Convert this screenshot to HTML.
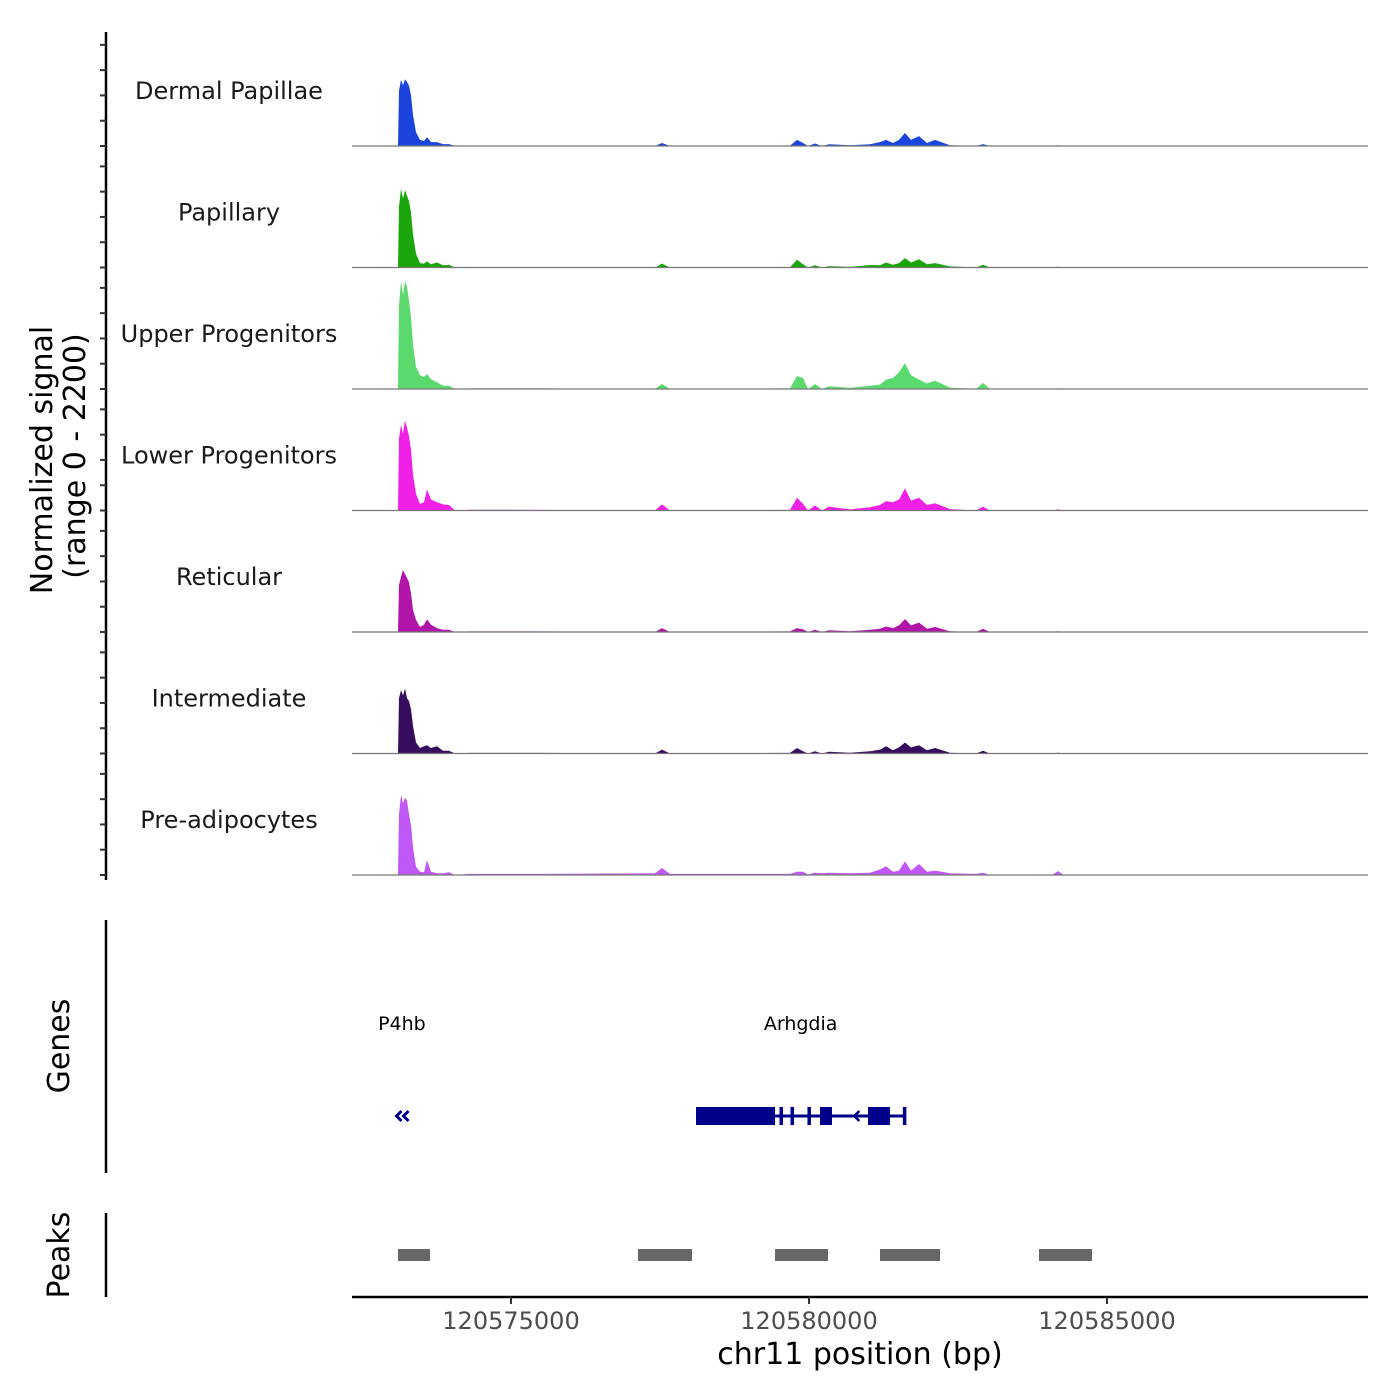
<!DOCTYPE html>
<html><head><meta charset="utf-8"><style>
html,body{margin:0;padding:0;background:#fff}
svg{display:block;font-family:"DejaVu Sans","Liberation Sans",sans-serif}
</style></head><body>
<svg id="chart" width="1400" height="1400" viewBox="0 0 1400 1400"></svg>
<script>
const positions=[120572332,120573104,120573121,120573154,120573188,120573221,120573255,120573289,120573322,120573356,120573406,120573473,120573540,120573591,120573658,120573758,120573859,120573960,120574060,120574312,120575487,120577416,120577534,120577668,120579681,120579799,120579899,120579983,120580101,120580218,120580336,120580688,120581023,120581191,120581292,120581409,120581510,120581611,120581711,120581846,120581980,120582114,120582366,120582802,120582919,120583037,120584077,120584178,120584279,120589379];
const trackNames=["Dermal Papillae","Papillary","Upper Progenitors","Lower Progenitors","Reticular","Intermediate","Pre-adipocytes"];
const trackColors=["#1a44dc","#1aa60a","#5ad96c","#f020e6","#b015a8","#360d5e","#c058f5"];
const dermal=[0,0,1000,1200,1100,1210,1160,1090,920,560,250,110,90,160,70,70,35,35,0,5,5,0,55,0,5,110,55,0,45,0,30,15,30,70,110,55,110,235,110,180,55,110,15,0,35,0,0,15,0,0];
const papillary=[0,0,1100,1430,1250,1400,1300,1200,1000,600,250,80,70,110,60,90,40,50,0,5,5,0,70,0,5,140,60,0,40,0,25,10,45,40,90,50,80,170,90,150,60,80,20,0,50,0,0,15,0,0];
const upper=[0,0,1500,1960,1700,1950,1850,1600,1300,800,400,250,220,270,180,120,60,60,0,10,10,0,90,0,10,235,200,0,90,0,50,20,60,80,170,200,300,470,250,170,100,150,25,0,110,0,0,15,0,0];
const lower=[0,0,1300,1550,1400,1630,1500,1350,1100,650,300,120,150,380,200,150,110,100,0,15,10,0,110,0,10,230,120,0,90,0,70,20,60,100,170,150,200,400,180,230,100,130,25,0,70,0,0,20,0,0];
const reticular=[0,0,850,1000,1120,1050,980,900,700,400,220,90,130,230,130,70,40,40,0,10,10,0,70,0,10,70,50,0,40,0,30,15,40,60,100,70,120,235,120,170,60,90,15,0,60,0,0,15,0,0];
const intermediate=[0,0,1000,1150,1050,1180,1000,950,800,500,200,100,130,150,100,130,50,50,0,10,10,0,70,0,10,100,40,0,40,0,30,15,40,70,130,60,110,200,110,150,60,100,15,0,50,0,0,15,0,0];
const preadipo=[0,0,1100,1450,1300,1400,1350,1100,900,500,150,60,50,270,60,30,30,50,0,20,20,30,127,20,20,60,60,10,40,30,40,30,40,100,160,60,80,250,80,200,60,80,30,20,40,0,0,70,0,0];
const yTickValues=[0,458,916,1374,1832];
const xTicks=[120575000,120580000,120585000];
const xTickLabels=["120575000","120580000","120585000"];
const peakStarts=[120573104,120577131,120579430,120581191,120583859];
const peakEnds=[120573641,120578037,120580319,120582198,120584748];
const geneNames=["P4hb","Arhgdia"];
const geneLabelPos=[120573170,120579860];
const arhThick=[[120578104,120579430],[120580185,120580386],[120580990,120581359]];
const arhThin=[120579530,120579715,120579999,120581600];
const arhSpan=[120578104,120581628];

const NS="http://www.w3.org/2000/svg";
const svg=document.getElementById('chart');
function el(tag,attrs,parent){const e=document.createElementNS(NS,tag);for(const k in attrs)e.setAttribute(k,attrs[k]);(parent||svg).appendChild(e);return e;}
const X0=352,X1=1368,B0=120575000,PX=0.0596;
function xs(bp){return 511 + (bp-B0)*PX;}
const base0=146,trackH=121.5,ys=0.0552;
function ysc(v,b){return b-v*ys;}
const series=[dermal,papillary,upper,lower,reticular,intermediate,preadipo];

let ax=el('line',{x1:106,y1:32,x2:106,y2:880,stroke:'#000','stroke-width':2.5});


series.forEach((s,i)=>{
  const b=base0+i*trackH;
  yTickValues.forEach(v=>{
    const t=el('line',{x1:100,x2:106,y1:ysc(v,b),y2:ysc(v,b),stroke:'#333','stroke-width':2});
    
    
  });
  let d='M'+xs(positions[0])+','+b;
  positions.forEach((p,j)=>{d+=' L'+xs(p).toFixed(1)+','+ysc(s[j],b).toFixed(1);});
  d+=' L'+xs(positions[positions.length-1])+','+b+' Z';
  const a=el('path',{d:d,fill:trackColors[i],stroke:'none'});
  
  
  const bl=el('line',{x1:X0,x2:X1,y1:b,y2:b,stroke:'#777','stroke-width':1.2});
  
  
  const lab=el('text',{x:229,y:b-47,'text-anchor':'middle','font-size':24,fill:'#1a1a1a'});
  lab.textContent=trackNames[i];
  
  
});
let yt=el('text',{transform:'translate(52,460) rotate(-90)','text-anchor':'middle','font-size':30,fill:'#000'});
yt.textContent='Normalized signal';


let yt2=el('text',{transform:'translate(85,456) rotate(-90)','text-anchor':'middle','font-size':30,fill:'#000'});
yt2.textContent='(range 0 - 2200)';



let ga=el('line',{x1:106,y1:920,x2:106,y2:1173,stroke:'#000','stroke-width':2.5});


let gt=el('text',{transform:'translate(69,1046) rotate(-90)','text-anchor':'middle','font-size':30,fill:'#000'});
gt.textContent='Genes';


geneNames.forEach((g,i)=>{
  const t=el('text',{x:xs(geneLabelPos[i]),y:1030,'text-anchor':'middle','font-size':19,fill:'#000'});
  t.textContent=g;
  
  
});
const gc='#00008b';
const p4x=xs(120573180);
let p4=el('path',{d:`M${p4x-1},1111 L${p4x-6},1116 L${p4x-1},1121 M${p4x+6},1111 L${p4x+1},1116 L${p4x+6},1121`,fill:'none',stroke:gc,'stroke-width':3});


let sp=el('line',{x1:xs(arhSpan[0]),x2:xs(arhSpan[1]),y1:1116,y2:1116,stroke:gc,'stroke-width':3});


arhThick.forEach(r=>{
  const e=el('rect',{x:xs(r[0]),y:1107,width:xs(r[1])-xs(r[0]),height:18,fill:gc});
  
  
});
arhThin.forEach(p=>{
  const e=el('rect',{x:xs(p)-1.5,y:1107,width:3.5,height:18,fill:gc});
  
  
});
[120580760,120581050].forEach(p=>{
  const e=el('path',{d:`M${xs(p)+5},1111 L${xs(p)},1116 L${xs(p)+5},1121`,fill:'none',stroke:gc,'stroke-width':2.5});
  
  
});

let pa=el('line',{x1:106,y1:1213,x2:106,y2:1297,stroke:'#000','stroke-width':2.5});


let pt=el('text',{transform:'translate(69,1255) rotate(-90)','text-anchor':'middle','font-size':30,fill:'#000'});
pt.textContent='Peaks';


peakStarts.forEach((s,i)=>{
  const r=el('rect',{x:xs(s),y:1249,width:xs(peakEnds[i])-xs(s),height:12,fill:'#666'});
  
  
});

let xa=el('line',{x1:X0,x2:X1,y1:1297,y2:1297,stroke:'#000','stroke-width':2.5});


xTicks.forEach((t,i)=>{
  const l=el('line',{x1:xs(t),x2:xs(t),y1:1297,y2:1304,stroke:'#333','stroke-width':2});
  
  
  const tx=el('text',{x:xs(t),y:1329,'text-anchor':'middle','font-size':24,fill:'#4d4d4d'});
  tx.textContent=xTickLabels[i];
  
  
});
let xt=el('text',{x:860,y:1364,'text-anchor':'middle','font-size':30,fill:'#000'});
xt.textContent='chr11 position (bp)';


</script>
</body></html>
